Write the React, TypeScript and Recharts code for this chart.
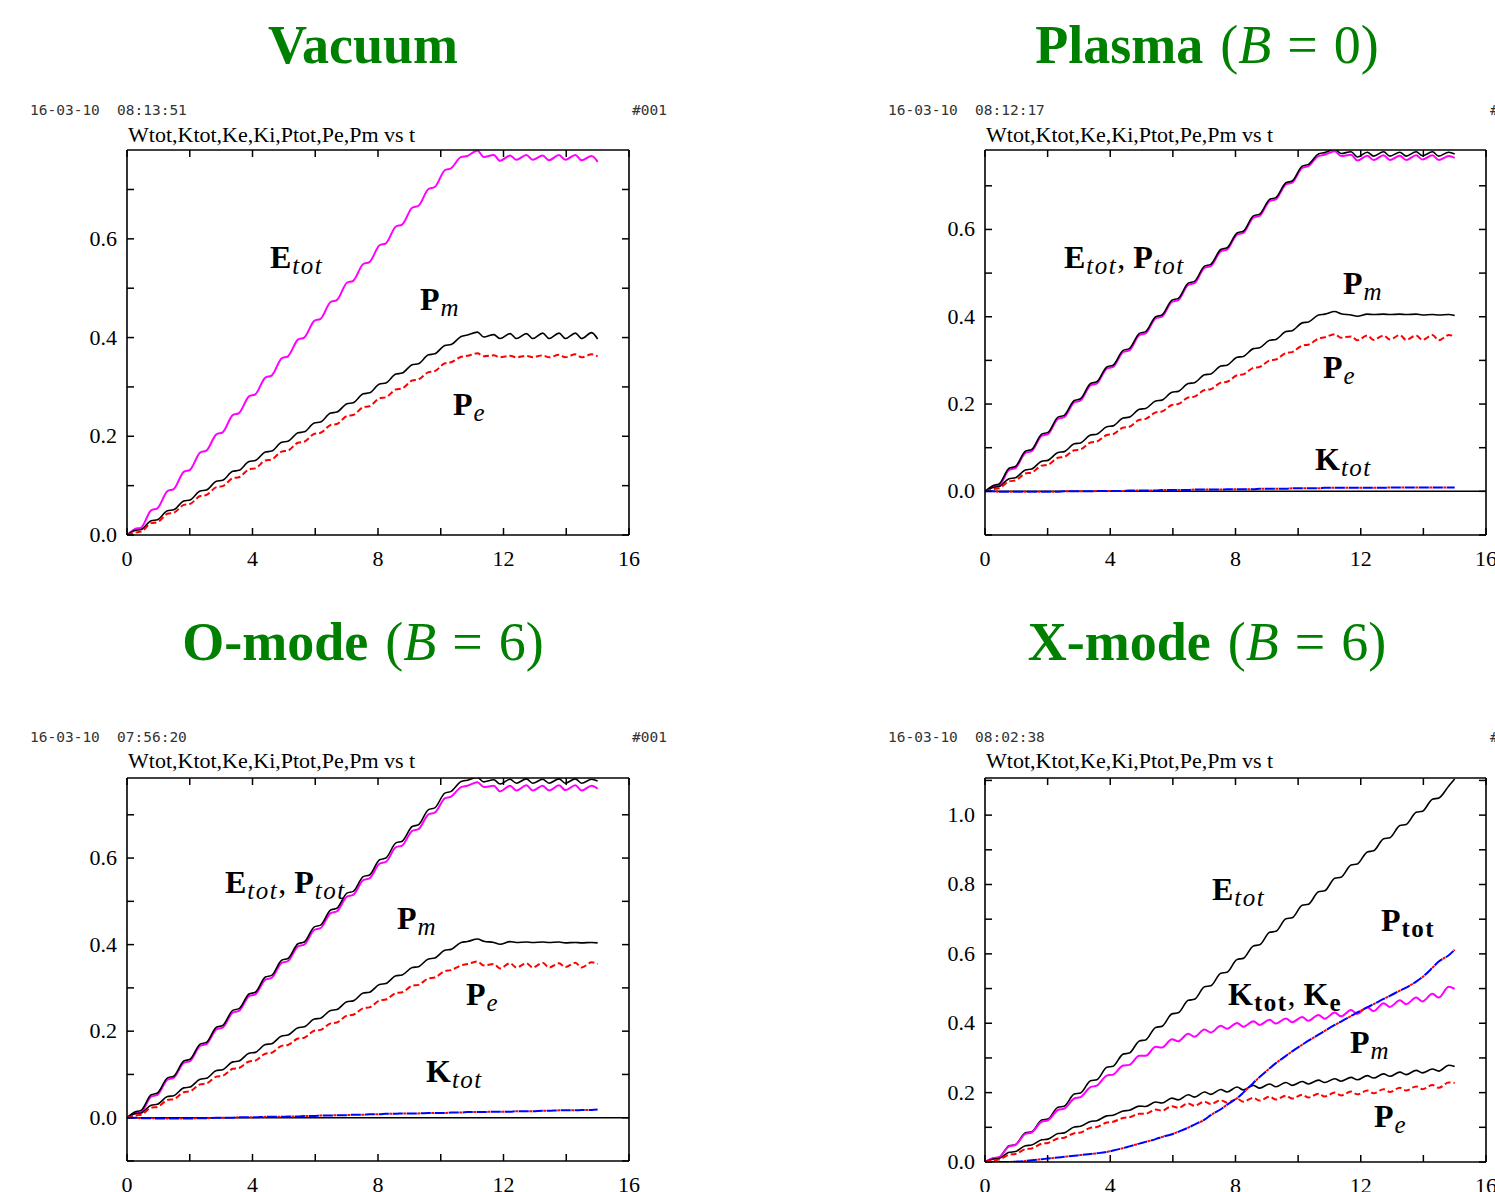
import React from "react";
import { LineChart, Line, XAxis, YAxis, ReferenceLine } from "recharts";

// time samples: two per wave period (start and end of each "flat" step)
const T = [
  0,
  0.25, 0.45, 0.77, 0.97, 1.29, 1.49, 1.81, 2.01, 2.33, 2.53,
  2.85, 3.05, 3.37, 3.57, 3.89, 4.09, 4.41, 4.61, 4.93, 5.13,
  5.45, 5.65, 5.97, 6.17, 6.49, 6.69, 7.01, 7.21, 7.53, 7.73,
  8.05, 8.25, 8.57, 8.77, 9.09, 9.29, 9.61, 9.81, 10.13, 10.33,
  10.65, 10.85, 11.17, 11.37, 11.69, 11.89, 12.21, 12.41, 12.73, 12.93,
  13.25, 13.45, 13.77, 13.97, 14.29, 14.49, 14.81, 15.0,
];

// ---- Vacuum
const VAC_E = [
  0,
  0.012, 0.015, 0.050, 0.054, 0.089, 0.093, 0.128, 0.132, 0.167, 0.171,
  0.204, 0.208, 0.243, 0.247, 0.281, 0.285, 0.319, 0.323, 0.358, 0.362,
  0.396, 0.400, 0.434, 0.438, 0.472, 0.476, 0.511, 0.515, 0.549, 0.553,
  0.587, 0.591, 0.625, 0.629, 0.663, 0.667, 0.701, 0.705, 0.739, 0.743,
  0.766, 0.768, 0.779, 0.766, 0.770, 0.758, 0.769, 0.760, 0.770, 0.760,
  0.769, 0.759, 0.770, 0.760, 0.770, 0.759, 0.768, 0.756,
];
const VAC_PM = [
  0,
  0.009, 0.011, 0.029, 0.031, 0.049, 0.051, 0.069, 0.071, 0.089, 0.091,
  0.109, 0.111, 0.129, 0.131, 0.149, 0.151, 0.168, 0.170, 0.188, 0.190,
  0.207, 0.209, 0.227, 0.229, 0.247, 0.249, 0.266, 0.268, 0.286, 0.288,
  0.306, 0.308, 0.326, 0.328, 0.345, 0.347, 0.365, 0.367, 0.384, 0.386,
  0.402, 0.405, 0.411, 0.401, 0.406, 0.398, 0.408, 0.398, 0.408, 0.398,
  0.409, 0.398, 0.409, 0.398, 0.409, 0.398, 0.410, 0.397,
];
const VAC_PE = [
  0,
  0.005, 0.007, 0.024, 0.026, 0.043, 0.045, 0.061, 0.063, 0.079, 0.081,
  0.097, 0.099, 0.115, 0.117, 0.133, 0.135, 0.151, 0.153, 0.169, 0.171,
  0.187, 0.189, 0.205, 0.207, 0.223, 0.225, 0.241, 0.243, 0.259, 0.261,
  0.277, 0.279, 0.295, 0.297, 0.313, 0.315, 0.330, 0.332, 0.348, 0.350,
  0.361, 0.363, 0.368, 0.362, 0.364, 0.360, 0.363, 0.360, 0.363, 0.360,
  0.364, 0.360, 0.365, 0.360, 0.366, 0.360, 0.366, 0.362,
];

// ---- Plasma (B = 0)
const PLA_W = [
  0,
  0.013, 0.017, 0.053, 0.057, 0.092, 0.096, 0.131, 0.135, 0.170, 0.174,
  0.208, 0.212, 0.247, 0.251, 0.285, 0.289, 0.323, 0.327, 0.362, 0.366,
  0.400, 0.404, 0.438, 0.442, 0.477, 0.481, 0.516, 0.520, 0.554, 0.558,
  0.592, 0.596, 0.631, 0.635, 0.669, 0.673, 0.707, 0.711, 0.745, 0.749,
  0.773, 0.776, 0.784, 0.774, 0.778, 0.766, 0.777, 0.768, 0.778, 0.768,
  0.777, 0.768, 0.778, 0.769, 0.778, 0.768, 0.777, 0.773,
];
const PLA_P = [
  0,
  0.010, 0.013, 0.049, 0.053, 0.088, 0.092, 0.127, 0.131, 0.166, 0.170,
  0.204, 0.208, 0.243, 0.247, 0.281, 0.285, 0.319, 0.323, 0.358, 0.362,
  0.396, 0.400, 0.434, 0.438, 0.473, 0.477, 0.512, 0.516, 0.550, 0.554,
  0.588, 0.592, 0.627, 0.631, 0.665, 0.669, 0.703, 0.707, 0.741, 0.745,
  0.768, 0.771, 0.779, 0.768, 0.771, 0.758, 0.769, 0.759, 0.770, 0.759,
  0.769, 0.759, 0.770, 0.760, 0.770, 0.759, 0.768, 0.764,
];
const PLA_PM = [
  0,
  0.009, 0.011, 0.029, 0.031, 0.049, 0.051, 0.069, 0.071, 0.089, 0.091,
  0.109, 0.111, 0.129, 0.131, 0.148, 0.150, 0.168, 0.170, 0.188, 0.190,
  0.207, 0.209, 0.227, 0.229, 0.247, 0.249, 0.267, 0.269, 0.287, 0.289,
  0.307, 0.309, 0.327, 0.329, 0.346, 0.348, 0.366, 0.368, 0.386, 0.388,
  0.404, 0.406, 0.412, 0.407, 0.404, 0.401, 0.406, 0.405, 0.406, 0.405,
  0.406, 0.405, 0.406, 0.404, 0.405, 0.404, 0.405, 0.403,
];
const PLA_PE = [
  0,
  0.005, 0.007, 0.023, 0.025, 0.041, 0.043, 0.059, 0.061, 0.077, 0.079,
  0.094, 0.096, 0.112, 0.114, 0.129, 0.131, 0.146, 0.148, 0.164, 0.166,
  0.181, 0.183, 0.198, 0.200, 0.215, 0.217, 0.232, 0.234, 0.249, 0.251,
  0.266, 0.268, 0.283, 0.285, 0.300, 0.302, 0.317, 0.319, 0.334, 0.336,
  0.350, 0.353, 0.360, 0.352, 0.355, 0.346, 0.357, 0.347, 0.357, 0.348,
  0.358, 0.347, 0.357, 0.347, 0.358, 0.346, 0.358, 0.355,
];
const PLA_K = [
  0,
  0, -0.001, -0.001, -0.001, -0.001, -0.001, -0.001, -0.001, -0.001, 0,
  0, 0, 0, 0.001, 0.001, 0.001, 0.001, 0.002, 0.002, 0.002,
  0.002, 0.003, 0.003, 0.003, 0.003, 0.004, 0.004, 0.004, 0.004, 0.005,
  0.005, 0.005, 0.005, 0.006, 0.006, 0.006, 0.006, 0.007, 0.007, 0.007,
  0.007, 0.008, 0.008, 0.008, 0.008, 0.008, 0.008, 0.008, 0.008, 0.009,
  0.009, 0.009, 0.009, 0.009, 0.009, 0.009, 0.009, 0.009,
];

// ---- O-mode (B = 6)
const OM_W = [
  0,
  0.013, 0.017, 0.053, 0.057, 0.092, 0.096, 0.131, 0.135, 0.170, 0.174,
  0.209, 0.213, 0.248, 0.252, 0.286, 0.290, 0.325, 0.329, 0.364, 0.368,
  0.402, 0.406, 0.441, 0.445, 0.480, 0.484, 0.519, 0.523, 0.557, 0.561,
  0.596, 0.600, 0.635, 0.639, 0.673, 0.677, 0.712, 0.716, 0.750, 0.754,
  0.777, 0.780, 0.786, 0.776, 0.781, 0.771, 0.782, 0.773, 0.783, 0.773,
  0.782, 0.773, 0.783, 0.773, 0.783, 0.773, 0.782, 0.778,
];
const OM_P = [
  0,
  0.010, 0.013, 0.049, 0.053, 0.088, 0.092, 0.127, 0.131, 0.166, 0.170,
  0.204, 0.208, 0.243, 0.247, 0.281, 0.285, 0.319, 0.323, 0.358, 0.362,
  0.396, 0.400, 0.434, 0.438, 0.473, 0.477, 0.511, 0.515, 0.549, 0.553,
  0.587, 0.591, 0.625, 0.629, 0.663, 0.667, 0.701, 0.705, 0.738, 0.742,
  0.764, 0.767, 0.775, 0.764, 0.767, 0.754, 0.767, 0.756, 0.768, 0.756,
  0.767, 0.756, 0.768, 0.757, 0.768, 0.756, 0.767, 0.760,
];
const OM_PM = [
  0,
  0.009, 0.011, 0.029, 0.031, 0.049, 0.051, 0.069, 0.071, 0.089, 0.091,
  0.109, 0.111, 0.129, 0.131, 0.149, 0.151, 0.169, 0.171, 0.189, 0.191,
  0.208, 0.210, 0.228, 0.230, 0.248, 0.250, 0.268, 0.270, 0.288, 0.290,
  0.308, 0.310, 0.328, 0.330, 0.347, 0.349, 0.367, 0.369, 0.387, 0.389,
  0.405, 0.407, 0.413, 0.408, 0.405, 0.401, 0.407, 0.405, 0.406, 0.405,
  0.406, 0.405, 0.406, 0.404, 0.405, 0.404, 0.405, 0.404,
];
const OM_PE = [
  0,
  0.005, 0.007, 0.023, 0.025, 0.041, 0.043, 0.059, 0.061, 0.077, 0.079,
  0.095, 0.097, 0.113, 0.115, 0.130, 0.132, 0.148, 0.150, 0.166, 0.168,
  0.183, 0.185, 0.201, 0.203, 0.218, 0.220, 0.236, 0.238, 0.253, 0.255,
  0.271, 0.273, 0.288, 0.290, 0.305, 0.307, 0.322, 0.324, 0.339, 0.341,
  0.352, 0.355, 0.361, 0.352, 0.355, 0.345, 0.357, 0.347, 0.357, 0.347,
  0.358, 0.347, 0.357, 0.348, 0.358, 0.347, 0.359, 0.355,
];
const OM_K = [
  0,
  0, -0.001, -0.001, -0.002, -0.002, -0.002, -0.002, -0.002, -0.001, -0.001,
  0, 0, 0, 0.001, 0.001, 0.001, 0.002, 0.002, 0.002, 0.003,
  0.003, 0.004, 0.004, 0.005, 0.005, 0.006, 0.006, 0.007, 0.007, 0.008,
  0.008, 0.009, 0.009, 0.010, 0.010, 0.010, 0.011, 0.011, 0.011, 0.012,
  0.012, 0.013, 0.013, 0.013, 0.014, 0.014, 0.014, 0.015, 0.015, 0.015,
  0.016, 0.016, 0.017, 0.017, 0.017, 0.018, 0.018, 0.019,
];

// ---- X-mode (B = 6)
const XM_W = [
  0,
  0.011, 0.014, 0.047, 0.050, 0.084, 0.087, 0.121, 0.124, 0.158, 0.161,
  0.196, 0.199, 0.234, 0.237, 0.273, 0.276, 0.311, 0.314, 0.349, 0.352,
  0.388, 0.391, 0.427, 0.430, 0.466, 0.469, 0.505, 0.508, 0.544, 0.547,
  0.584, 0.587, 0.623, 0.626, 0.662, 0.665, 0.701, 0.704, 0.740, 0.743,
  0.779, 0.782, 0.818, 0.821, 0.856, 0.859, 0.894, 0.897, 0.932, 0.935,
  0.970, 0.973, 1.008, 1.011, 1.046, 1.049, 1.084, 1.104,
];
const XM_P = [
  0,
  0.011, 0.014, 0.045, 0.049, 0.081, 0.085, 0.116, 0.120, 0.150, 0.154,
  0.183, 0.187, 0.216, 0.220, 0.249, 0.252, 0.278, 0.280, 0.306, 0.306,
  0.332, 0.330, 0.354, 0.348, 0.370, 0.361, 0.382, 0.373, 0.393, 0.384,
  0.401, 0.390, 0.406, 0.395, 0.410, 0.399, 0.414, 0.403, 0.418, 0.407,
  0.424, 0.413, 0.431, 0.420, 0.438, 0.427, 0.446, 0.435, 0.458, 0.447,
  0.466, 0.455, 0.474, 0.463, 0.485, 0.474, 0.505, 0.499,
];
const XM_K = [
  0,
  0, 0, 0, 0.001, 0.003, 0.005, 0.008, 0.010, 0.013, 0.015,
  0.018, 0.020, 0.023, 0.025, 0.029, 0.033, 0.040, 0.045, 0.053, 0.058,
  0.066, 0.072, 0.080, 0.087, 0.099, 0.108, 0.122, 0.135, 0.152, 0.165,
  0.184, 0.200, 0.228, 0.245, 0.270, 0.285, 0.306, 0.319, 0.338, 0.350,
  0.367, 0.378, 0.395, 0.405, 0.421, 0.431, 0.446, 0.455, 0.470, 0.479,
  0.494, 0.503, 0.520, 0.533, 0.560, 0.578, 0.596, 0.612,
];
const XM_PM = [
  0,
  0.008, 0.010, 0.028, 0.030, 0.047, 0.049, 0.064, 0.066, 0.082, 0.084,
  0.101, 0.103, 0.117, 0.119, 0.133, 0.135, 0.147, 0.149, 0.161, 0.160,
  0.173, 0.170, 0.184, 0.179, 0.194, 0.187, 0.202, 0.195, 0.209, 0.202,
  0.216, 0.208, 0.221, 0.213, 0.225, 0.217, 0.229, 0.221, 0.232, 0.225,
  0.236, 0.229, 0.240, 0.233, 0.244, 0.237, 0.249, 0.242, 0.254, 0.247,
  0.259, 0.252, 0.264, 0.257, 0.268, 0.262, 0.279, 0.275,
];
const XM_PE = [
  0,
  0.005, 0.007, 0.021, 0.023, 0.037, 0.039, 0.053, 0.055, 0.068, 0.070,
  0.083, 0.085, 0.099, 0.101, 0.114, 0.116, 0.127, 0.129, 0.139, 0.139,
  0.151, 0.148, 0.161, 0.156, 0.169, 0.162, 0.174, 0.167, 0.178, 0.171,
  0.182, 0.174, 0.185, 0.177, 0.188, 0.180, 0.191, 0.183, 0.194, 0.186,
  0.197, 0.189, 0.200, 0.192, 0.203, 0.195, 0.206, 0.198, 0.210, 0.202,
  0.214, 0.206, 0.218, 0.210, 0.222, 0.214, 0.229, 0.228,
];

const X_TICKS = [0, 2, 4, 6, 8, 10, 12, 14, 16];
const X_LABELS = [0, 4, 8, 12, 16];
const Y_TICKS_VAC = [0, 0.1, 0.2, 0.3, 0.4, 0.5, 0.6, 0.7];
const Y_TICKS_NEG = [-0.1, 0, 0.1, 0.2, 0.3, 0.4, 0.5, 0.6, 0.7];
const Y_TICKS_X = [0, 0.1, 0.2, 0.3, 0.4, 0.5, 0.6, 0.7, 0.8, 0.9, 1.0, 1.1];
const Y_LABELS = [0, 0.2, 0.4, 0.6, 0.8, 1.0];

const SERIF = '"Liberation Serif", "Times New Roman", serif';
const MONO = '"DejaVu Sans Mono", monospace';
const GREEN = "#008000";
const MAGENTA = "#ff00ff";
const RED = "#ff0000";
const BLUE = "#0000ff";

function buildRows(cols: Record<string, number[]>) {
  return T.map((t, i) => {
    const row: Record<string, number> = { t };
    Object.keys(cols).forEach((k) => {
      row[k] = cols[k][i];
    });
    return row;
  });
}

type LineDef = { key: string; color: string; width: number; dash?: string };

const solid = (key: string, color: string, width = 1.6): LineDef => ({ key, color, width });
const redDash = (key: string): LineDef => ({ key, color: RED, width: 2, dash: "6 3" });
// Ktot (blue long dash) with Ke (red) showing in the gaps
const kLines = (key: string): LineDef[] => [
  { key, color: BLUE, width: 2, dash: "10 4" },
  { key, color: RED, width: 2, dash: "0 10.5 3 0.5" },
];

const TICK = 7;

function makeTick(side: "left" | "right" | "top" | "bottom", labels?: number[]) {
  return (p: any) => {
    const { x, y, payload } = p;
    const v = payload.value;
    const show = labels ? labels.indexOf(v) >= 0 : false;
    let line = null;
    if (side === "left") line = <line x1={x} y1={y} x2={x + TICK} y2={y} stroke="#000" strokeWidth={1.5} />;
    if (side === "right") line = <line x1={x} y1={y} x2={x - TICK} y2={y} stroke="#000" strokeWidth={1.5} />;
    if (side === "top") line = <line x1={x} y1={y} x2={x} y2={y + TICK} stroke="#000" strokeWidth={1.5} />;
    if (side === "bottom") line = <line x1={x} y1={y} x2={x} y2={y - TICK} stroke="#000" strokeWidth={1.5} />;
    return (
      <g>
        {line}
        {show && side === "left" && (
          <text x={x - 10} y={y + 7} textAnchor="end" fontFamily={SERIF} fontSize={22} fill="#000">
            {v.toFixed(1)}
          </text>
        )}
        {show && side === "bottom" && (
          <text x={x} y={y + 31} textAnchor="middle" fontFamily={SERIF} fontSize={22} fill="#000">
            {String(v)}
          </text>
        )}
      </g>
    );
  };
}

type PanelCfg = {
  left: number;
  top: number;
  w: number;
  h: number;
  yDomain: [number, number];
  yTicks: number[];
  zero?: boolean;
  data: Record<string, number>[];
  lines: LineDef[];
};

const ML = 80;
const MT = 20;
const MR = 20;
const MB = 50;
const AXIS = { stroke: "#000", strokeWidth: 1.6 };

function Panel({ cfg }: { cfg: PanelCfg }) {
  return (
    <div style={{ position: "absolute", left: cfg.left - ML, top: cfg.top - MT }}>
      <LineChart
        width={cfg.w + ML + MR}
        height={cfg.h + MT + MB}
        data={cfg.data}
        margin={{ top: MT - 1, right: MR - 1, bottom: MB - 40, left: ML - 60 }}
      >
        <XAxis
          dataKey="t"
          type="number"
          domain={[0, 16]}
          ticks={X_TICKS}
          allowDataOverflow
          height={40}
          tickSize={0}
          tickMargin={0}
          tickLine={false}
          axisLine={AXIS}
          tick={makeTick("bottom", X_LABELS)}
          interval={0}
        />
        <XAxis
          xAxisId="top"
          orientation="top"
          dataKey="t"
          type="number"
          domain={[0, 16]}
          ticks={X_TICKS}
          allowDataOverflow
          height={1}
          tickSize={0}
          tickMargin={0}
          tickLine={false}
          axisLine={AXIS}
          tick={makeTick("top")}
          interval={0}
        />
        <YAxis
          type="number"
          domain={cfg.yDomain}
          ticks={cfg.yTicks}
          allowDataOverflow
          width={60}
          tickSize={0}
          tickMargin={0}
          tickLine={false}
          axisLine={AXIS}
          tick={makeTick("left", Y_LABELS)}
          interval={0}
        />
        <YAxis
          yAxisId="right"
          orientation="right"
          type="number"
          domain={cfg.yDomain}
          ticks={cfg.yTicks}
          allowDataOverflow
          width={1}
          tickSize={0}
          tickMargin={0}
          tickLine={false}
          axisLine={AXIS}
          tick={makeTick("right")}
          interval={0}
        />
        {cfg.zero && <ReferenceLine y={0} stroke="#000" strokeWidth={1.5} />}
        {/* invisible copy bound to the top/right axes so that they get drawn */}
        <Line
          xAxisId="top"
          yAxisId="right"
          dataKey={cfg.lines[0].key}
          stroke="none"
          dot={false}
          activeDot={false}
          isAnimationActive={false}
        />
        {cfg.lines.map((l, i) => (
          <Line
            key={l.key + i}
            dataKey={l.key}
            type="monotone"
            stroke={l.color}
            strokeWidth={l.width}
            strokeDasharray={l.dash}
            dot={false}
            activeDot={false}
            isAnimationActive={false}
          />
        ))}
      </LineChart>
    </div>
  );
}

const PANELS: PanelCfg[] = [
  {
    left: 127, top: 150, w: 502, h: 385,
    yDomain: [0, 0.78], yTicks: Y_TICKS_VAC,
    data: buildRows({ E: VAC_E, PM: VAC_PM, PE: VAC_PE }),
    lines: [solid("E", MAGENTA, 2), solid("PM", "#000"), redDash("PE")],
  },
  {
    left: 985, top: 150, w: 501, h: 385,
    yDomain: [-0.1, 0.782], yTicks: Y_TICKS_NEG, zero: true,
    data: buildRows({ W: PLA_W, P: PLA_P, PM: PLA_PM, PE: PLA_PE, K: PLA_K }),
    lines: [solid("P", MAGENTA, 2), solid("W", "#000"), solid("PM", "#000"), redDash("PE"), ...kLines("K")],
  },
  {
    left: 127, top: 778, w: 502, h: 383,
    yDomain: [-0.1, 0.785], yTicks: Y_TICKS_NEG, zero: true,
    data: buildRows({ W: OM_W, P: OM_P, PM: OM_PM, PE: OM_PE, K: OM_K }),
    lines: [solid("P", MAGENTA, 2), solid("W", "#000"), solid("PM", "#000"), redDash("PE"), ...kLines("K")],
  },
  {
    left: 985, top: 778, w: 501, h: 384,
    yDomain: [0, 1.107], yTicks: Y_TICKS_X,
    data: buildRows({ W: XM_W, P: XM_P, K: XM_K, PM: XM_PM, PE: XM_PE }),
    lines: [solid("W", "#000"), solid("P", MAGENTA, 2), solid("PM", "#000"), redDash("PE"), ...kLines("K")],
  },
];

type Part = { s: string; sub?: boolean; it?: boolean; bold?: boolean; dx?: number };

function MathText({ x, y, parts }: { x: number; y: number; parts: Part[] }) {
  let shift = 0;
  return (
    <text x={x} y={y} fontFamily={SERIF} fill="#000">
      {parts.map((p, i) => {
        const target = p.sub ? 6 : 0;
        const dy = target - shift;
        shift = target;
        return (
          <tspan
            key={i}
            dy={dy}
            dx={p.dx || 0}
            fontSize={p.sub ? 25 : 32}
            letterSpacing={p.sub ? 1.5 : 0}
            fontStyle={p.it ? "italic" : "normal"}
            fontWeight={p.bold ? 700 : 400}
          >
            {p.s}
          </tspan>
        );
      })}
    </text>
  );
}

const B = (s: string, dx = 0): Part => ({ s, bold: true, dx });
const SI = (s: string): Part => ({ s, sub: true, it: true, dx: 1 });
const SB = (s: string): Part => ({ s, sub: true, bold: true, dx: 1 });
const N = (s: string): Part => ({ s });

function Header({ x, y, date, time, id }: { x: number; y: number; date: string; time: string; id: number }) {
  return (
    <g fontFamily={MONO} fontSize={14.5} fill="#333">
      <text x={x} y={y}>{date}</text>
      <text x={x + 87} y={y}>{time}</text>
      <text x={id} y={y}>#001</text>
    </g>
  );
}

function Subtitle({ x, y }: { x: number; y: number }) {
  return (
    <text x={x} y={y} fontFamily={SERIF} fontSize={22} fill="#000">
      Wtot,Ktot,Ke,Ki,Ptot,Pe,Pm vs t
    </text>
  );
}

function Title({ x, y, name, b }: { x: number; y: number; name: string; b?: string }) {
  return (
    <text x={x} y={y} textAnchor="middle" fontFamily={SERIF} fontSize={54} fill={GREEN}>
      <tspan fontWeight={700}>{name}</tspan>
      {b !== undefined && (
        <>
          <tspan dx={17}>{"("}</tspan>
          <tspan fontStyle="italic">B</tspan>
          <tspan dx={16}>{"="}</tspan>
          <tspan dx={16}>{b + ")"}</tspan>
        </>
      )}
    </text>
  );
}

export default function App() {
  return (
    <div
      style={{
        position: "absolute",
        left: 0,
        top: 0,
        width: 1495,
        height: 1192,
        overflow: "hidden",
        background: "#fff",
      }}
    >
      {PANELS.map((cfg, i) => (
        <Panel key={i} cfg={cfg} />
      ))}
      <svg
        width={1495}
        height={1192}
        style={{ position: "absolute", left: 0, top: 0, pointerEvents: "none" }}
      >
        <Title x={363} y={63} name="Vacuum" />
        <Title x={1207} y={63} name="Plasma" b="0" />
        <Title x={363} y={660} name="O-mode" b="6" />
        <Title x={1207} y={660} name="X-mode" b="6" />

        <Header x={30} y={115} date="16-03-10" time="08:13:51" id={632} />
        <Header x={888} y={115} date="16-03-10" time="08:12:17" id={1490} />
        <Header x={30} y={742} date="16-03-10" time="07:56:20" id={632} />
        <Header x={888} y={742} date="16-03-10" time="08:02:38" id={1490} />

        <Subtitle x={128} y={142} />
        <Subtitle x={986} y={142} />
        <Subtitle x={128} y={768} />
        <Subtitle x={986} y={768} />

        {/* Vacuum */}
        <MathText x={270} y={268} parts={[B("E"), SI("tot")]} />
        <MathText x={420} y={310} parts={[B("P"), SI("m")]} />
        <MathText x={453} y={415} parts={[B("P"), SI("e")]} />

        {/* Plasma */}
        <MathText x={1064} y={268} parts={[B("E"), SI("tot"), N(","), B("P", 8), SI("tot")]} />
        <MathText x={1343} y={294} parts={[B("P"), SI("m")]} />
        <MathText x={1323} y={378} parts={[B("P"), SI("e")]} />
        <MathText x={1315} y={470} parts={[B("K"), SI("tot")]} />

        {/* O-mode */}
        <MathText x={225} y={893} parts={[B("E"), SI("tot"), N(","), B("P", 8), SI("tot")]} />
        <MathText x={397} y={929} parts={[B("P"), SI("m")]} />
        <MathText x={466} y={1005} parts={[B("P"), SI("e")]} />
        <MathText x={426} y={1082} parts={[B("K"), SI("tot")]} />

        {/* X-mode */}
        <MathText x={1212} y={900} parts={[B("E"), SI("tot")]} />
        <MathText x={1381} y={931} parts={[B("P"), SB("tot")]} />
        <MathText x={1228} y={1005} parts={[B("K"), SB("tot"), N(","), B("K", 8), SB("e")]} />
        <MathText x={1350} y={1053} parts={[B("P"), SI("m")]} />
        <MathText x={1374} y={1127} parts={[B("P"), SI("e")]} />
      </svg>
    </div>
  );
}
